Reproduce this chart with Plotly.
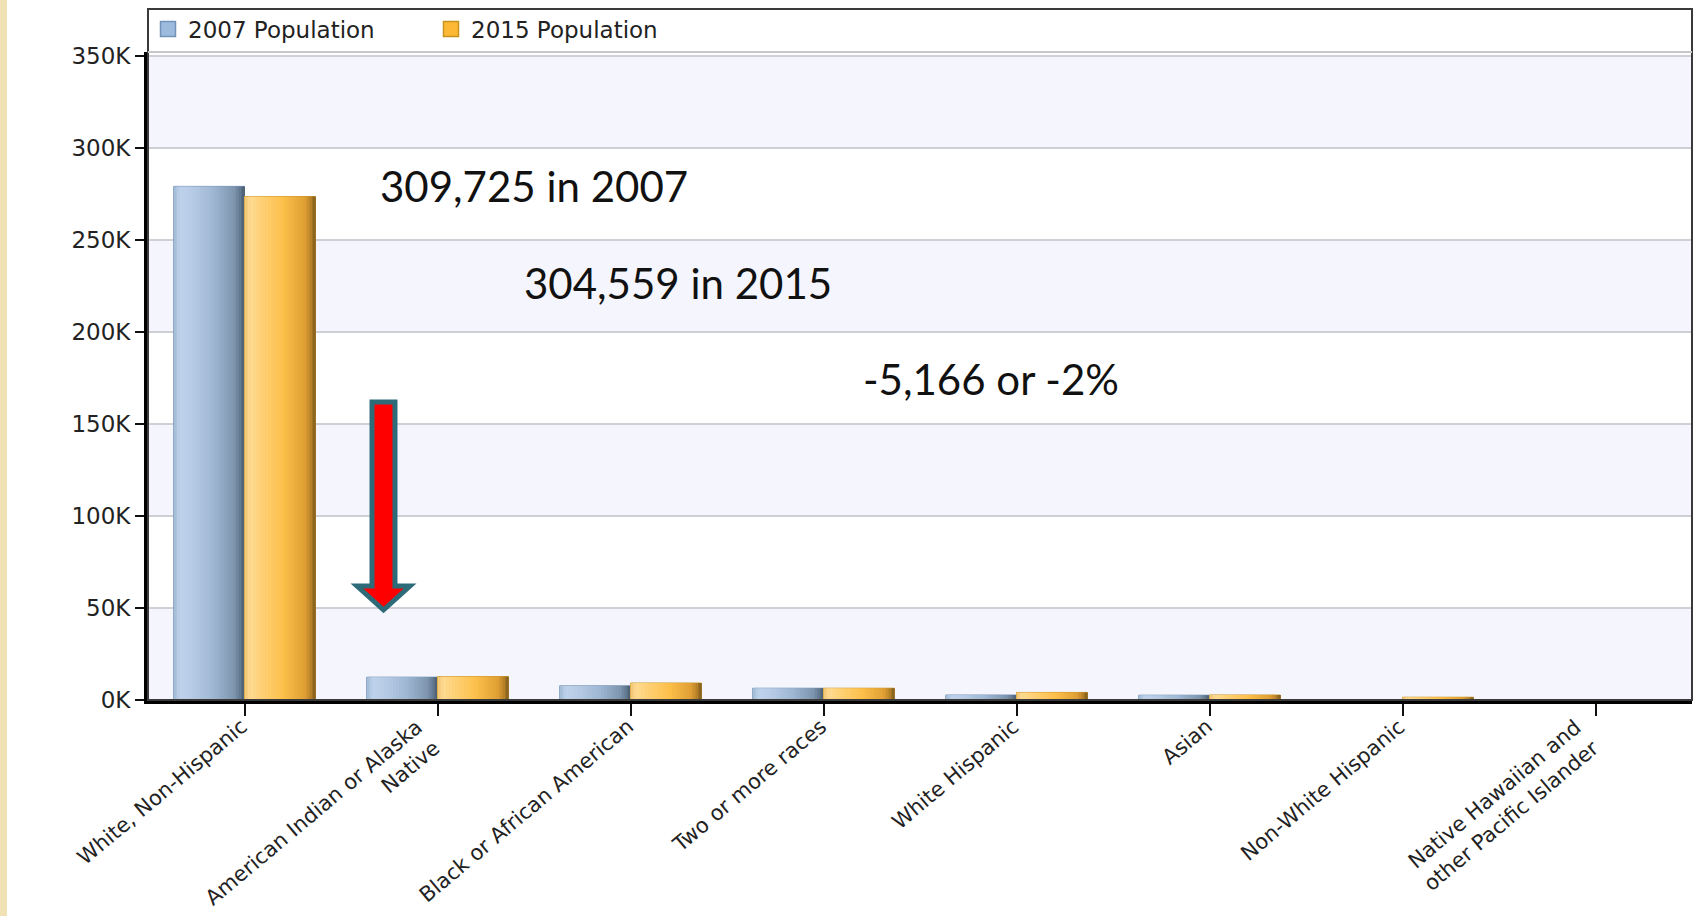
import plotly.graph_objects as go

categories = [
    "White, Non-Hispanic",
    "American Indian or Alaska<br>Native",
    "Black or African American",
    "Two or more races",
    "White Hispanic",
    "Asian",
    "Non-White Hispanic",
    "Native Hawaiian and<br>other Pacific Islander",
]
pop_2007 = [279000, 12400, 7700, 6400, 2700, 2600, 0, 100]
pop_2015 = [273500, 12700, 9200, 6400, 4100, 2700, 1500, 200]

series_names = ["2007 Population", "2015 Population"]
y_ticks = [0, 50000, 100000, 150000, 200000, 250000, 300000, 350000]
y_tick_text = ["0K", "50K", "100K", "150K", "200K", "250K", "300K", "350K"]
y_top = 352000

notes = ["309,725 in 2007", "304,559 in 2015", "-5,166 or -2%"]

# ---------- styling ----------
W = 0.367
N_SLICES = 24
blue_stops = [(0.0, '#9fb7d2'), (0.08, '#bdd2ea'), (0.2, '#bccfe8'), (0.55, '#a0b8d3'),
              (0.85, '#7f96b0'), (0.94, '#62788f'), (1.0, '#46586c')]
orange_stops = [(0.0, '#efc272'), (0.08, '#ffdb95'), (0.2, '#ffd47f'), (0.55, '#fcbf49'),
                (0.85, '#e0a035'), (0.94, '#b57f28'), (1.0, '#76571c')]
legend_colors = ['#9dbbdd', '#fdb935']
legend_lines = ['#7392b8', '#c8921f']


def hex2rgb(h):
    h = h.lstrip('#')
    return [int(h[i:i + 2], 16) for i in (0, 2, 4)]


def ramp(stops, t):
    for (t0, c0), (t1, c1) in zip(stops[:-1], stops[1:]):
        if t0 <= t <= t1:
            f = (t - t0) / (t1 - t0) if t1 > t0 else 0
            a, b = hex2rgb(c0), hex2rgb(c1)
            return 'rgb(%d,%d,%d)' % tuple(round(a[i] + (b[i] - a[i]) * f) for i in range(3))
    return stops[-1][1]


fig = go.Figure()

for s, (vals, stops) in enumerate([(pop_2007, blue_stops), (pop_2015, orange_stops)]):
    base_off = -W if s == 0 else 0.0
    fig.add_trace(go.Bar(
        x=categories, y=vals, name=series_names[s],
        width=W, offset=base_off,
        marker=dict(color=legend_colors[s], line=dict(color=legend_lines[s], width=1)),
        showlegend=False, hoverinfo="skip",
    ))
    for k in range(N_SLICES):
        col = ramp(stops, (k + 0.5) / N_SLICES)
        fig.add_trace(go.Bar(
            x=categories, y=vals,
            width=W / N_SLICES * 1.15, offset=base_off + k * W / N_SLICES,
            marker=dict(color=col, line=dict(width=0)),
            showlegend=False, hoverinfo="skip",
        ))

# legend proxies (square swatches like the original)
for s in range(2):
    fig.add_trace(go.Scatter(
        x=[None], y=[None], mode="markers", name=series_names[s],
        marker=dict(symbol="square", size=15, color=legend_colors[s],
                    line=dict(color=legend_lines[s], width=1.5)),
        showlegend=True, hoverinfo="skip",
    ))

# plot-area pixel geometry (for decorations in paper coordinates)
L, R, T, B = 148, 6, 52, 216
FW, FH = 1698, 916
PW, PH = FW - L - R, FH - T - B


def px(x):
    return (x - L) / PW


def py(y):
    return (FH - B - y) / PH


shapes = []
# alternating background bands built from tick values
band_edges = y_ticks + [y_top]
for i in range(len(band_edges) - 1):
    if i % 2 == 0:
        shapes.append(dict(type="rect", xref="paper", yref="y", x0=0, x1=1,
                           y0=band_edges[i], y1=band_edges[i + 1],
                           fillcolor="#f5f6fd", line=dict(width=0), layer="below"))

# outer frame (includes legend strip)
shapes.append(dict(type="rect", xref="paper", yref="paper", x0=0, x1=px(1692), y0=0, y1=py(9),
                   line=dict(color="#3a3a3a", width=2), fillcolor="rgba(0,0,0,0)", layer="above"))
# separator under legend
shapes.append(dict(type="line", xref="paper", yref="paper", x0=0, x1=1, y0=1, y1=1,
                   line=dict(color="#c8c8cc", width=2), layer="above"))
# left decorative slide border
shapes.append(dict(type="rect", xref="paper", yref="paper",
                   x0=px(0), x1=px(7), y0=py(FH), y1=py(0),
                   fillcolor="#f1e2b6", line=dict(width=0), layer="above"))

# red arrow (decoration)
pts = [(372, 402), (395, 402), (395, 586), (410, 586), (383.5, 610), (357, 586), (372, 586)]
path = "M " + " L ".join(f"{px(a):.5f},{py(b):.5f}" for a, b in pts) + " Z"
shapes.append(dict(type="path", xref="paper", yref="paper", path=path,
                   fillcolor="#ff0000", line=dict(color="#2e6b79", width=5), layer="above"))

annotations = []
note_pos = [(534, 186), (678, 283), (991, 379)]
for t, (ax, ay) in zip(notes, note_pos):
    annotations.append(dict(text=t, xref="paper", yref="paper", x=px(ax), y=py(ay),
                            xanchor="center", yanchor="middle", showarrow=False,
                            font=dict(family="Lato", size=42, color="#111111")))

# category labels, rotated like the original
for c in categories:
    annotations.append(dict(text=c, xref="x", yref="paper", x=c, y=0,
                            xanchor="right", yanchor="top", textangle=-40, align="right",
                            xshift=10, yshift=-12, showarrow=False,
                            font=dict(family="DejaVu Sans", size=21, color="#222222")))

y_tick_font = dict(family="DejaVu Sans", size=23, color="#222222")

fig.update_layout(
    width=FW, height=FH,
    margin=dict(l=L, r=R, t=T, b=B, pad=0),
    paper_bgcolor="white", plot_bgcolor="white",
    barmode="overlay",
    font=dict(family="DejaVu Sans", size=23, color="#222222"),
    showlegend=True,
    legend=dict(orientation="h", x=0.0, xanchor="left", y=py(29), yanchor="middle",
                bgcolor="rgba(0,0,0,0)", font=dict(family="DejaVu Sans", size=23, color="#222222"),
                entrywidth=238, entrywidthmode="pixels", itemclick=False, itemsizing="trace"),
    shapes=shapes,
    annotations=annotations,
    xaxis=dict(
        type="category", showgrid=False, automargin=False, showticklabels=False,
        showline=True, linecolor="black", linewidth=4,
        ticks="outside", ticklen=12, tickwidth=2, tickcolor="#111111",
        range=[-0.5, len(categories) - 0.5], fixedrange=True,
    ),
    yaxis=dict(
        range=[0, y_top], tickvals=y_ticks, ticktext=y_tick_text, automargin=False,
        showgrid=True, gridcolor="#cfd0d6", gridwidth=2,
        showline=True, linecolor="black", linewidth=4,
        ticks="outside", ticklen=9, tickwidth=2, tickcolor="#111111",
        tickfont=y_tick_font,
        zeroline=False, fixedrange=True,
    ),
)

fig.write_html("out.html", config={"displayModeBar": False},
               post_script="document.body.style.margin='0';document.body.style.overflow='hidden';")
